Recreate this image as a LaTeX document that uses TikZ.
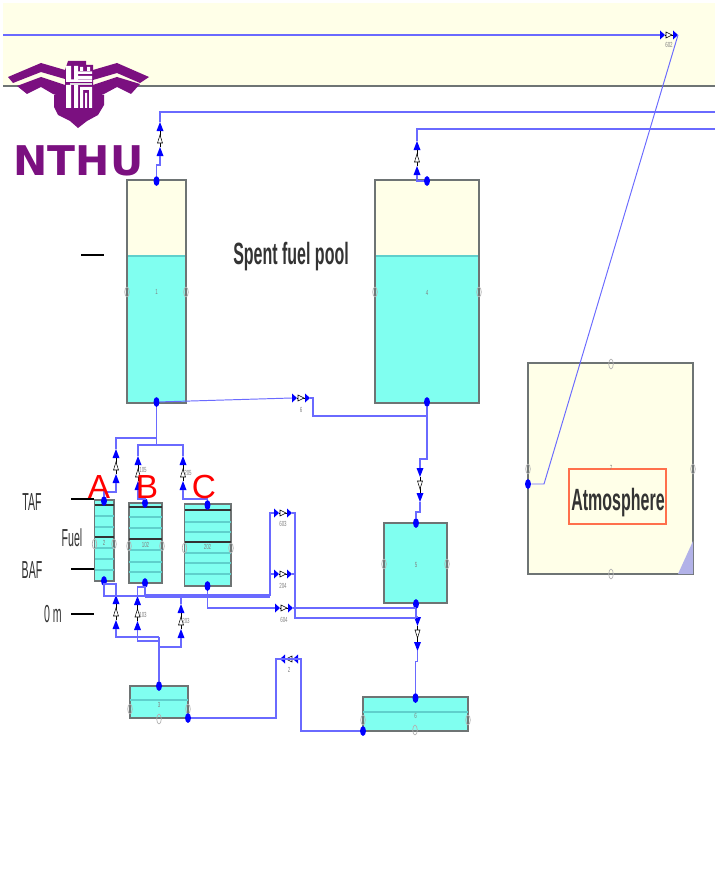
\documentclass[tikz,border=0pt]{standalone}
\usepackage{fontspec}
\setmainfont{Liberation Sans}
\newfontfamily\logofont{DejaVu Sans}
\usetikzlibrary{shapes.geometric}
\definecolor{creamfill}{HTML}{FFFFE8}
\definecolor{waterfill}{HTML}{80FFF0}
\definecolor{pipeblue}{HTML}{6A6AFF}
\definecolor{levelteal}{HTML}{5FD0CC}
\definecolor{logopurple}{HTML}{7B1080}
\definecolor{wallgray}{HTML}{6E7474}
\definecolor{textgray}{HTML}{333333}
\tikzset{
    tank/.style={draw=wallgray, line width=0.8pt, inner sep=0pt, outer sep=0pt},
    pipe/.style={draw=pipeblue, line width=0.8pt},
    mainpipe/.style={draw=pipeblue, line width=2pt},
    thinpipe/.style={draw=pipeblue, line width=0.55pt},
    level/.style={draw=levelteal, line width=0.6pt},
    rod/.style={draw=black!80, line width=0.8pt},
    dot/.style={ellipse, fill=blue, inner sep=0pt, minimum width=3.4pt, minimum height=5.6pt},
    port/.style={ellipse, draw=gray!60, line width=0.4pt, inner sep=0pt, minimum width=2.6pt, minimum height=5.6pt},
    tinylabel/.style={text=gray, font=\fontsize{4.2}{5}\selectfont, inner sep=0pt, transform shape, xscale=0.6},
    boldlabel/.style={text=textgray, font=\fontsize{17.5}{20}\bfseries\selectfont, inner sep=0pt, transform shape, xscale=0.52},
    sidelabel/.style={text=textgray, font=\fontsize{14}{16}\selectfont, inner sep=0pt, transform shape, xscale=0.43},
    letterlabel/.style={text=red, font=\fontsize{19}{22}\selectfont, inner sep=0pt},
    hvalve/.pic={
        \fill[blue] (-9,-4.5) -- (-4,0) -- (-9,4.5) -- cycle;
        \fill[blue] (4,-4.5) -- (9,0) -- (4,4.5) -- cycle;
        \draw[black, line width=0.3pt] (-4,0) -- (4,0);
        \draw[black, fill=white, line width=0.3pt] (-3,-3) -- (3,0) -- (-3,3) -- cycle;
        \coordinate (-in) at (-9,0);
        \coordinate (-out) at (9,0);
    },
    vvalve/.pic={
        \fill[blue] (-17,-3.5) -- (-8,0) -- (-17,3.5) -- cycle;
        \fill[blue] (8,-3.5) -- (17,0) -- (8,3.5) -- cycle;
        \draw[black, line width=0.3pt] (-8,0) -- (8,0);
        \draw[black, fill=white, line width=0.3pt] (-4,-2.5) -- (4,0) -- (-4,2.5) -- cycle;
        \coordinate (-in) at (-17,0);
        \coordinate (-out) at (17,0);
    }
}
\begin{document}
\begin{tikzpicture}[x=0.02cm, y=-0.02cm]
    \useasboundingbox (0,0) rectangle (715,892);

    % band
    \fill[creamfill] (3,3) rectangle (715,86);
    \draw[wallgray, line width=1pt] (3,86) -- (715,86);

    % tanks
    \fill[creamfill] (127,180) rectangle (186,256);
    \fill[waterfill] (127,256) rectangle (186,403);
    \fill[creamfill] (375,180) rectangle (479,256);
    \fill[waterfill] (375,256) rectangle (479,403);
    \draw[level] (127,256) -- (186,256) (375,256) -- (479,256);
    \node[tank, minimum width=1.18cm, minimum height=4.46cm] (T1) at (156.5,291.5) {};
    \node[tank, minimum width=2.08cm, minimum height=4.46cm] (T4) at (427,291.5) {};
    \node[tank, fill=waterfill, minimum width=1.26cm, minimum height=1.6cm] (T5) at (415.5,563) {};
    \node[tank, fill=waterfill, minimum width=2.1cm, minimum height=0.68cm] (T6) at (415.5,714) {};
    \node[tank, fill=waterfill, minimum width=1.16cm, minimum height=0.64cm] (T3) at (159,702) {};
    \node[tank, fill=creamfill, minimum width=3.3cm, minimum height=4.22cm] (T7) at (610.5,468.5) {};
    \fill[black!30!blue!30] (678,574) -- (693,574) -- (693,541) -- cycle;
    \draw[level] (363,712) -- (468,712) (130,700) -- (188,700);

    % fuel
    \node[tank, fill=waterfill, minimum width=0.39cm, minimum height=1.62cm] (FA) at (104.25,540.5) {};
    \node[tank, fill=waterfill, minimum width=0.66cm, minimum height=1.6cm] (FB) at (145.5,543) {};
    \node[tank, fill=waterfill, minimum width=0.93cm, minimum height=1.64cm] (FC) at (207.75,545) {};
    \draw[level] (94.5,516) -- (114,516) (94.5,527) -- (114,527) (94.5,548) -- (114,548) (94.5,559) -- (114,559) (94.5,570) -- (114,570);
    \draw[level] (129,517) -- (162,517) (129,528) -- (162,528) (129,550) -- (162,550) (129,562) -- (162,562) (129,572) -- (162,572);
    \draw[level] (184.5,522) -- (231,522) (184.5,532) -- (231,532) (184.5,553) -- (231,553) (184.5,563) -- (231,563) (184.5,574) -- (231,574);
    \draw[rod] (94.5,505) -- (114,505) (94.5,537) -- (114,537);
    \draw[rod] (129,507) -- (162,507) (129,539) -- (162,539);
    \draw[rod] (184.5,510) -- (231,510) (184.5,542) -- (231,542);

    % ports
    \node[port] (P1w) at (127,292) {};
    \node[port] (P1e) at (186,292) {};
    \node[port] (P4w) at (375,292) {};
    \node[port] (P4e) at (479,292) {};
    \node[port] (P5w) at (384,564) {};
    \node[port] (P5e) at (447,564) {};
    \node[port] (P6w) at (363,720) {};
    \node[port] (P6e) at (468,720) {};
    \node[port] (P6s) at (415,730) {};
    \node[port] (P3w) at (130,709) {};
    \node[port] (P3e) at (188,709) {};
    \node[port] (P3s) at (159,719) {};
    \node[port] (P7n) at (611,364) {};
    \node[port] (P7w) at (528,469) {};
    \node[port] (P7e) at (693,469) {};
    \node[port] (P7s) at (611,574) {};
    \node[port] (PAw) at (94.5,544) {};
    \node[port] (PAe) at (114,544) {};
    \node[port] (PBw) at (129,546) {};
    \node[port] (PBe) at (162,546) {};
    \node[port] (PCw) at (184.5,548) {};
    \node[port] (PCe) at (231,548) {};

    % junctions
    \node[dot] (D1n) at (156.5,181) {};
    \node[dot] (D1s) at (156.5,402) {};
    \node[dot] (D4n) at (427,181) {};
    \node[dot] (D4s) at (427,402) {};
    \node[dot] (D5n) at (416,523) {};
    \node[dot] (D5s) at (416,604) {};
    \node[dot] (D6n) at (415.5,698) {};
    \node[dot] (D6w) at (363,731) {};
    \node[dot] (D3n) at (159,686) {};
    \node[dot] (D3e) at (188,718) {};
    \node[dot] (D7w) at (528,484) {};
    \node[dot] (DAn) at (104,501) {};
    \node[dot] (DAs) at (104,581) {};
    \node[dot] (DBn) at (145,503) {};
    \node[dot] (DBs) at (145,583) {};
    \node[dot] (DCn) at (207.5,505) {};
    \node[dot] (DCs) at (207.5,586) {};

    % valves
    \pic (V602) at (669,35) {hvalve};
    \pic (V6) at (301,398) {hvalve};
    \pic (V603) at (283,513) {hvalve};
    \pic (V204) at (283,574) {hvalve};
    \pic (V604) at (284,608) {hvalve};
    \pic[rotate=180] (V2) at (289,659) {hvalve};
    \pic[rotate=90] (VT1) at (160,139) {vvalve};
    \pic[rotate=90] (VT4) at (417,158) {vvalve};
    \pic[rotate=-90] (VT5) at (420,485) {vvalve};
    \pic[rotate=-90] (V56) at (417.5,634) {vvalve};
    \pic[rotate=90] (VA) at (116,466) {vvalve};
    \pic[rotate=90] (VB) at (138,473) {vvalve};
    \pic[rotate=90] (VC) at (183,473) {vvalve};
    \pic[rotate=90] (VAl) at (116,612) {vvalve};
    \pic[rotate=90] (VBl) at (137.5,613) {vvalve};
    \pic[rotate=90] (VCl) at (181,621) {vvalve};

    % free ends
    \coordinate (bandW) at (3,35);
    \coordinate (eastA) at (715,112);
    \coordinate (eastB) at (715,129);
    \coordinate (tieA) at (156.5,438);
    \coordinate (tieB) at (156.5,445);
    \coordinate (tieC) at (159,647);
    \coordinate (bus) at (270,596);

    % pipes
    \draw[pipe] (bandW) -- (V602-in);
    \draw[thinpipe] (D7w) -- (544,484) -- (V602-out);
    \draw[pipe] (D1n) -- (156.5,165) -- (160,165) -- (VT1-in);
    \draw[pipe] (VT1-out) -- (160,112) -- (eastA);
    \draw[pipe] (D4n) -- (417,181) -- (VT4-in);
    \draw[pipe] (VT4-out) -- (417,129) -- (eastB);
    \draw[thinpipe] (D1s) -- (V6-in);
    \draw[pipe] (V6-out) -- (313,398) -- (313,416) -- (427,416);
    \draw[pipe] (D4s) -- (427,459) -- (420,459) -- (VT5-in);
    \draw[pipe] (VT5-out) -- (420,512) -- (416,512) -- (D5n);
    \draw[pipe] (D5s) -- (416,617) -- (417.5,617) -- (V56-in);
    \draw[thinpipe] (V56-out) -- (417.5,661) -- (415.5,661) -- (D6n);
    \draw[pipe] (D1s) -- (tieB);
    \draw[pipe] (tieA) -- (116,438) -- (VA-out);
    \draw[pipe] (VA-in) -- (116,492) -- (104,492) -- (DAn);
    \draw[pipe] (tieB) -- (138,445) -- (VB-out);
    \draw[pipe] (VB-in) -- (138,499) -- (145,499) -- (DBn);
    \draw[pipe] (tieB) -- (183,445) -- (VC-out);
    \draw[pipe] (VC-in) -- (183,499) -- (207.5,499) -- (DCn);
    \draw[pipe] (DAs) -- (104,596) -- (145,596);
    \draw[pipe] (DAs) -- (104,584) -- (116,584) -- (VAl-out);
    \draw[pipe] (DBs) -- (145,596);
    \draw[pipe] (DBs) -- (145,587) -- (137.5,587) -- (VBl-out);
    \draw[mainpipe] (145,596) -- (bus);
    \draw[pipe] (VCl-out) -- (181,594);
    \draw[pipe] (bus) -- (270,513) -- (V603-in);
    \draw[pipe] (270,574) -- (V204-in);
    \draw[pipe] (DCs) -- (207.5,608) -- (V604-in);
    \draw[pipe] (V604-out) -- (416,608);
    \draw[pipe] (V603-out) -- (295,513) -- (295,618) -- (416,618);
    \draw[pipe] (V204-out) -- (295,574);
    \draw[pipe] (VAl-in) -- (116,637) -- (159,637);
    \draw[pipe] (VBl-in) -- (137.5,641) -- (159,641);
    \draw[pipe] (VCl-in) -- (181,647) -- (tieC);
    \draw[pipe] (159,637) -- (D3n);
    \draw[pipe] (D3e) -- (276,718) -- (276,659) -- (V2-in);
    \draw[pipe] (V2-out) -- (301,659) -- (301,731) -- (D6w);

    % level marks
    \coordinate (poolW) at (81,255);
    \coordinate (poolE) at (104,255);
    \coordinate (tafW) at (71,499);
    \coordinate (tafE) at (94,499);
    \coordinate (bafW) at (71,569);
    \coordinate (bafE) at (94,569);
    \coordinate (zeroW) at (71,614);
    \coordinate (zeroE) at (94,614);
    \draw[black, line width=0.8pt] (poolW) -- (poolE);
    \draw[black, line width=0.8pt] (tafW) -- (tafE);
    \draw[black, line width=0.8pt] (bafW) -- (bafE);
    \draw[black, line width=0.8pt] (zeroW) -- (zeroE);

    % texts
    \node[boldlabel] (pool) at (291,257) {Spent fuel pool};
    \node[draw=red!60!orange!70, line width=0.8pt, minimum width=1.94cm, minimum height=1.1cm, inner sep=0pt] (atmbox) at (617.5,496.5) {};
    \node[boldlabel] (atm) at (618,503) {Atmosphere};
    \node[sidelabel] (taf) at (32,502) {TAF};
    \node[sidelabel] (fuel) at (72,538) {Fuel};
    \node[sidelabel] (baf) at (32,570) {BAF};
    \node[sidelabel] (zero) at (53,614) {0 m};
    \node[letterlabel] (la) at (99,487) {A};
    \node[letterlabel] (lb) at (147,487) {B};
    \node[letterlabel] (lc) at (204,487) {C};
    \node[tinylabel] (n1) at (156.5,292) {1};
    \node[tinylabel] (n4) at (427,293) {4};
    \node[tinylabel] (n5) at (416,565) {5};
    \node[tinylabel] (n6) at (415.5,716) {6};
    \node[tinylabel] (n3) at (159,705) {3};
    \node[tinylabel] (n7) at (611,468) {7};
    \node[tinylabel] (n2) at (104,543) {2};
    \node[tinylabel] (n102) at (145.5,545) {102};
    \node[tinylabel] (n202) at (207.5,547) {202};
    \node[tinylabel] (nv602) at (669,45) {602};
    \node[tinylabel] (nv6) at (301,410) {6};
    \node[tinylabel] (nv603) at (283,524) {603};
    \node[tinylabel] (nv204) at (283,586) {204};
    \node[tinylabel] (nv604) at (284,620) {604};
    \node[tinylabel] (nv2) at (289,670) {2};
    \node[tinylabel] (nvb) at (143,470) {105};
    \node[tinylabel] (nvc) at (188,473) {205};
    \node[tinylabel] (nvbl) at (143,615) {103};
    \node[tinylabel] (nvcl) at (186,621) {203};

    % logo
    \fill[logopurple] (8,77) -- (41,63) -- (65,70) -- (65,79) -- (41,72) -- (13,83) -- cycle;
    \fill[logopurple] (149,77) -- (117,63) -- (93,70) -- (93,80) -- (117,73) -- (140,83) -- cycle;
    \fill[logopurple] (17,86) -- (41,77) -- (65,85) -- (65,98) -- (53,94) -- (41,87) -- (27,94) -- cycle;
    \fill[logopurple] (140,84) -- (117,77) -- (93,85) -- (93,98) -- (104,94) -- (117,87) -- (131,94) -- cycle;
    \fill[logopurple] (54,95) -- (104,95) -- (104,105) -- (98,115) -- (87,121) -- (78,128) -- (70,121) -- (58,115) -- (54,107) -- cycle;
    \fill[logopurple] (65,70) -- (68,61) -- (86,61) -- (86,65) -- (93,65) -- (93,110) -- (65,110) -- cycle;
    \fill[white] (66,66) rectangle (71,81) (74,66) rectangle (78,81) (80,67) rectangle (83,71) (87,67) rectangle (90,71);
    \fill[white] (78,71.5) rectangle (92,74) (78,76) rectangle (92,79) (66,79.5) rectangle (92,82);
    \fill[white!75!gray] (70,83) rectangle (92,85);
    \fill[white] (66,85) rectangle (71,108) (74,85) rectangle (78,108) (80,87) rectangle (92,90);
    \fill[white] (80,90) rectangle (83,108) (89,90) rectangle (92,108) (85,93) rectangle (87,108);
    \node[text=logopurple, font=\logofont\fontsize{23.3}{28}\bfseries\selectfont, inner sep=0pt] (logotext) at (78.5,161) {NTHU};
\end{tikzpicture}
\end{document}
